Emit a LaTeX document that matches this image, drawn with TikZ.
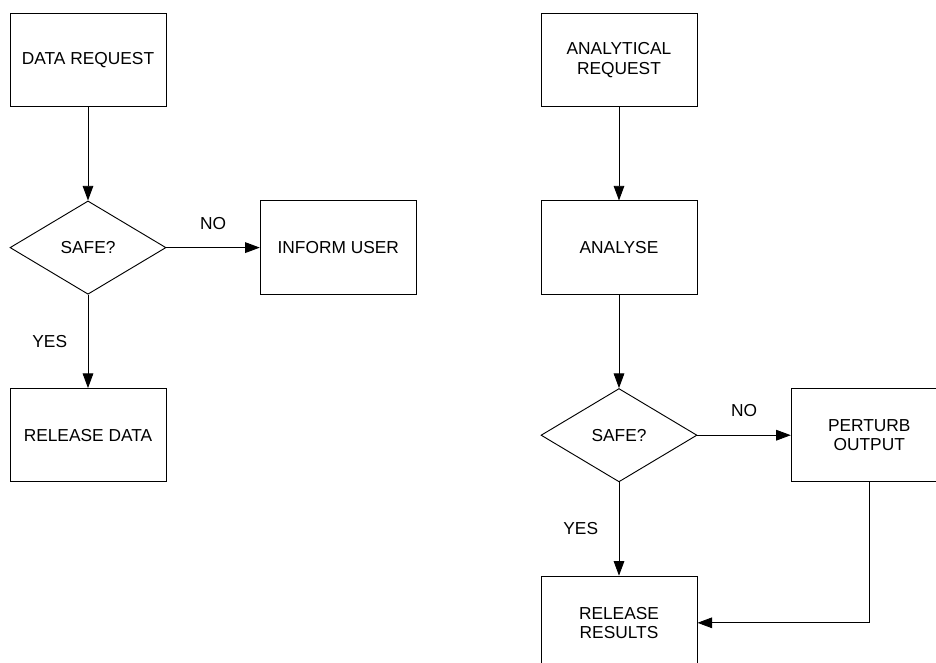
\documentclass[tikz,border=0pt]{standalone}
\usepackage{fontspec}
\setmainfont{Liberation Sans}
\usepackage{tikz}
\usetikzlibrary{arrows.meta,positioning,shapes.geometric}

\begin{document}
\begin{tikzpicture}[font=\fontsize{13}{14.5}\selectfont,
    node distance=70pt,
    stepbox/.style={draw,line width=0.7pt,minimum width=117pt,minimum height=70pt,align=center,inner sep=2pt},
    decide/.style={draw,diamond,line width=0.7pt,minimum width=117pt,minimum height=70pt,inner sep=0pt,align=center},
    flow/.style={-{Triangle[length=11pt,width=8pt]},line width=0.7pt}]
  \clip (0,0) rectangle (702pt,-496.5pt);
  % left column
  \node[stepbox] (dreq) at (66pt,-45pt) {DATA REQUEST};
  \node[decide,below=of dreq] (lsafe) {SAFE?};
  \node[stepbox,right=of lsafe] (inform) {INFORM USER};
  \node[stepbox,below=of lsafe] (reldata) {RELEASE DATA};
  \draw[flow] (dreq) -- (lsafe);
  \draw[flow] (lsafe) -- node[above=10pt]{NO} (inform);
  \draw[flow] (lsafe) -- node[left=12pt]{YES} (reldata);
  % right column
  \node[stepbox] (areq) at (464.25pt,-45pt) {ANALYTICAL\\REQUEST};
  \node[stepbox,below=of areq] (analyse) {ANALYSE};
  \node[decide,below=of analyse] (rsafe) {SAFE?};
  \node[stepbox,right=of rsafe] (perturb) {PERTURB\\OUTPUT};
  \node[stepbox,below=of rsafe] (relres) {RELEASE\\RESULTS};
  \draw[flow] (areq) -- (analyse);
  \draw[flow] (analyse) -- (rsafe);
  \draw[flow] (rsafe) -- node[above=10pt]{NO} (perturb);
  \draw[flow] (rsafe) -- node[left=12pt]{YES} (relres);
  \draw[flow] (perturb.south) |- (relres.east);
\end{tikzpicture}
\end{document}
